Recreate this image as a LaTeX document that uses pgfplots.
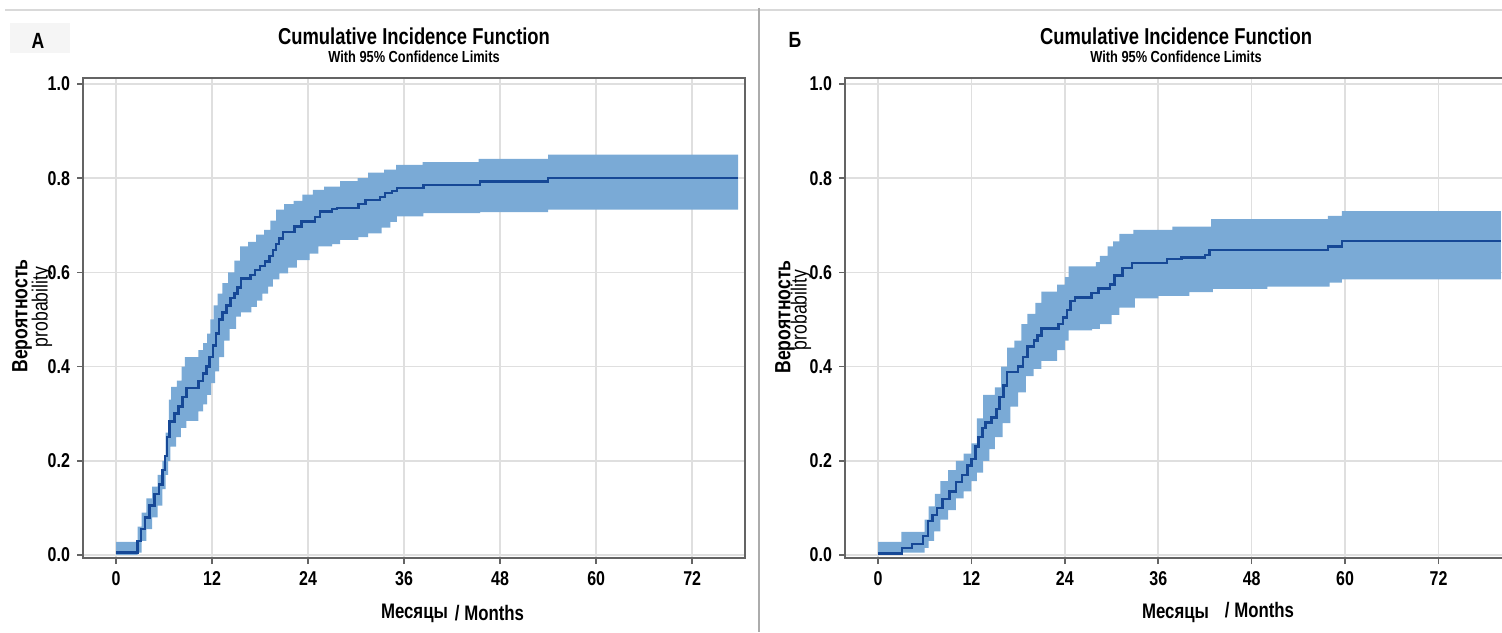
\documentclass[border=0pt]{standalone}
\usepackage{fontspec}
\setmainfont{Liberation Sans}[FakeStretch=0.8]
\usepackage{pgfplots}
\pgfplotsset{compat=1.18}
\usepgfplotslibrary{fillbetween}
\definecolor{band}{RGB}{122,170,214}
\definecolor{cif}{RGB}{22,72,150}
\definecolor{frm}{RGB}{100,100,100}

\pgfplotsset{
  cifaxis/.style={
    anchor=south west, scale only axis,
    width=331pt, height=240pt,
    ymin=-0.0064, ymax=1.0127,
    xtick={0,12,24,36,48,60,72},
    ytick={0,0.2,0.4,0.6,0.8,1.0},
    yticklabel style={/pgf/number format/fixed, /pgf/number format/fixed zerofill,
      /pgf/number format/precision=1},
    /pgf/number format/assume math mode=true,
    ticklabel style={font=\fontsize{10}{11}\selectfont\bfseries},
    grid=major, grid style={gray!25, line width=0.8pt},
    axis line style={frm, line width=1pt},
    tick style={frm, line width=0.8pt},
    tick align=outside, major tick length=3pt,
    xtick pos=bottom, ytick pos=left,
  },
  bandstyle/.style={band, draw=none},
  cifline/.style={cif, line width=1.2pt, const plot},
}

\begin{document}
\begin{tikzpicture}
% frame lines of the figure
\draw[gray!30, line width=1pt] (2.5pt,311pt) -- (751pt,311pt);
\draw[gray!65, line width=1.3pt] (379.5pt,312pt) -- (379.5pt,0pt);

% ---------- panel A ----------
\begin{axis}[cifaxis, at={(41.5pt,37pt)}, xmin=-4.125, xmax=78.6]
\addplot[name path=upA, draw=none, const plot] coordinates {
(0,0.028) (2.7,0.06) (3.2,0.09) (3.8,0.12) (4.5,0.145) (5.2,0.17) (5.8,0.20)
(6.2,0.26) (6.6,0.33) (6.9,0.357) (7.6,0.37) (8.2,0.40) (8.6,0.42) (10.3,0.435)
(10.9,0.45) (11.4,0.47) (11.8,0.50) (12.2,0.53) (12.7,0.555) (13.3,0.577)
(14.0,0.60) (14.8,0.625) (15.5,0.655) (16.5,0.665) (17.5,0.68) (18.5,0.69)
(19.3,0.71) (20.0,0.733) (21.0,0.745) (22.2,0.752) (23.3,0.765) (24.6,0.775)
(26.0,0.782) (28.0,0.794) (30.2,0.80) (31.5,0.812) (33.5,0.818) (35.0,0.828)
(38.3,0.834) (45.3,0.841) (54.0,0.85) (77.75,0.85)};
\addplot[name path=loA, draw=none, const plot] coordinates {
(0,0.0) (2.7,0.005) (3.2,0.03) (3.8,0.055) (4.5,0.08) (5.2,0.105) (5.8,0.14)
(6.2,0.17) (6.5,0.20) (6.8,0.23) (7.5,0.25) (8.1,0.27) (8.8,0.285) (10.3,0.305)
(10.9,0.32) (11.4,0.34) (11.9,0.365) (12.4,0.39) (12.9,0.42) (13.5,0.455)
(14.2,0.48) (15.0,0.506) (15.6,0.515) (16.9,0.527) (17.6,0.54) (18.3,0.555)
(19.0,0.57) (19.6,0.585) (20.4,0.598) (21.5,0.61) (22.6,0.626) (24.2,0.64)
(25.3,0.655) (27.0,0.66) (28.0,0.669) (30.3,0.675) (31.5,0.683) (33.2,0.695)
(34.3,0.707) (35.1,0.719) (38.4,0.726) (45.5,0.728) (54.0,0.733) (77.75,0.733)};
\addplot[bandstyle] fill between[of=upA and loA];
\addplot[cifline] coordinates {
(0,0.005) (2.7,0.03) (3.1,0.055) (3.6,0.08) (4.2,0.105) (4.8,0.13) (5.4,0.15)
(5.8,0.18) (6.1,0.21) (6.4,0.25) (6.7,0.283) (7.3,0.30) (7.8,0.315) (8.3,0.335)
(8.8,0.354) (10.3,0.37) (10.9,0.385) (11.3,0.40) (11.7,0.42) (12.1,0.445)
(12.5,0.47) (12.9,0.50) (13.3,0.515) (13.8,0.53) (14.3,0.545) (14.8,0.555)
(15.2,0.568) (15.6,0.587) (16.8,0.595) (17.4,0.605) (18.0,0.613) (18.6,0.623)
(19.2,0.635) (19.6,0.648) (20.0,0.66) (20.4,0.672) (20.9,0.686) (22.3,0.697)
(23.2,0.708) (24.9,0.718) (25.5,0.729) (27.0,0.734) (27.6,0.737) (30.3,0.745)
(31.2,0.754) (33.0,0.760) (33.6,0.768) (34.5,0.773) (35.1,0.779) (38.4,0.786)
(45.5,0.793) (54.0,0.800) (77.75,0.800)};
\end{axis}

% ---------- panel B ----------
\begin{axis}[cifaxis, at={(422.5pt,37pt)}, xmin=-4.24, xmax=80.8]
\addplot[name path=upB, draw=none, const plot] coordinates {
(0,0.028) (3.0,0.049) (6.0,0.075) (6.5,0.103) (7.3,0.13) (8.0,0.157) (9.0,0.18)
(10.0,0.20) (11.0,0.215) (12.0,0.237) (12.7,0.29) (13.5,0.34) (15.0,0.356)
(15.8,0.40) (16.6,0.44) (17.5,0.455) (18.4,0.49) (19.2,0.512) (20.2,0.535)
(21.0,0.559) (23.0,0.574) (24.0,0.59) (24.5,0.613) (28.0,0.622) (28.5,0.635)
(29.5,0.655) (30.2,0.666) (31.0,0.682) (32.8,0.69) (37.8,0.697) (42.8,0.713)
(57.8,0.72) (59.6,0.73) (80.0,0.73)};
\addplot[name path=loB, draw=none, const plot] coordinates {
(0,0.0) (3.0,0.005) (6.0,0.015) (6.5,0.03) (7.2,0.05) (8.0,0.075) (9.0,0.095)
(10.0,0.12) (11.0,0.135) (12.0,0.157) (12.7,0.175) (13.5,0.20) (14.3,0.225)
(15.0,0.25) (16.0,0.28) (17.0,0.315) (18.0,0.345) (19.0,0.38) (20.0,0.395)
(21.0,0.412) (23.0,0.435) (24.0,0.455) (24.5,0.477) (27.5,0.48) (28.5,0.49)
(30.0,0.51) (31.0,0.525) (33.0,0.545) (36.0,0.55) (40.0,0.558) (43.0,0.565)
(50.0,0.57) (58.0,0.578) (59.6,0.585) (80.0,0.585)};
\addplot[bandstyle] fill between[of=upB and loB];
\addplot[cifline] coordinates {
(0,0.003) (3.1,0.015) (4.4,0.023) (5.8,0.04) (6.4,0.072) (7.0,0.085) (7.6,0.10)
(8.3,0.119) (9.2,0.135) (10.0,0.155) (10.8,0.170) (11.5,0.19) (12.0,0.204)
(12.5,0.23) (12.9,0.25) (13.4,0.27) (13.8,0.281) (14.6,0.292) (15.2,0.31)
(15.6,0.335) (16.1,0.36) (16.6,0.389) (18.0,0.40) (18.6,0.42) (19.2,0.443)
(20.0,0.455) (20.5,0.466) (21.0,0.481) (23.2,0.49) (23.8,0.504) (24.3,0.52)
(24.7,0.539) (25.3,0.547) (27.4,0.556) (28.3,0.566) (29.8,0.574) (30.4,0.593)
(31.4,0.609) (32.6,0.620) (37.1,0.628) (39.0,0.632) (42.0,0.637) (42.6,0.647)
(57.8,0.655) (59.6,0.666) (80.0,0.666)};
\end{axis}

% titles
\node[font=\fontsize{11.5}{13}\selectfont\bfseries] at (207pt,298pt) {Cumulative Incidence Function};
\node[font=\fontsize{8}{9}\selectfont\bfseries] at (207pt,287.5pt) {With 95\% Confidence Limits};
\node[font=\fontsize{11.5}{13}\selectfont\bfseries] at (588pt,298pt) {Cumulative Incidence Function};
\node[font=\fontsize{8}{9}\selectfont\bfseries] at (588pt,287.5pt) {With 95\% Confidence Limits};

% panel letters
\fill[black!4] (5pt,289.5pt) rectangle (35pt,304.5pt);
\node[font=\fontsize{11}{12}\selectfont\bfseries] at (19pt,295.5pt) {A};
\node[font=\fontsize{11}{12}\selectfont\bfseries] at (397.5pt,296pt) {Б};

% y labels
\node[rotate=90, font=\fontsize{11}{12}\selectfont\bfseries] at (11pt,158pt) {Вероятность};
\node[rotate=90, font=\fontsize{11}{12}\selectfont] at (21pt,162.5pt) {probability};
\node[rotate=90, font=\fontsize{11}{12}\selectfont\bfseries] at (392.5pt,157.5pt) {Вероятность};
\node[rotate=90, font=\fontsize{11}{12}\selectfont] at (400.5pt,161pt) {probability};

% x labels
\node[font=\fontsize{10.5}{12}\selectfont\bfseries] at (207.25pt,9.5pt) {Месяцы};
\node[font=\fontsize{10.5}{12}\selectfont\bfseries] at (244.75pt,9.5pt) {/ Months};
\node[font=\fontsize{10.5}{12}\selectfont\bfseries] at (587.75pt,9.5pt) {Месяцы};
\node[font=\fontsize{10.5}{12}\selectfont\bfseries] at (629.75pt,11pt) {/ Months};

% picture size: the right edge of panel B is cut off as in the original
\pgfresetboundingbox
\path[use as bounding box] (0,0) rectangle (751pt,316pt);
\end{tikzpicture}
\end{document}
